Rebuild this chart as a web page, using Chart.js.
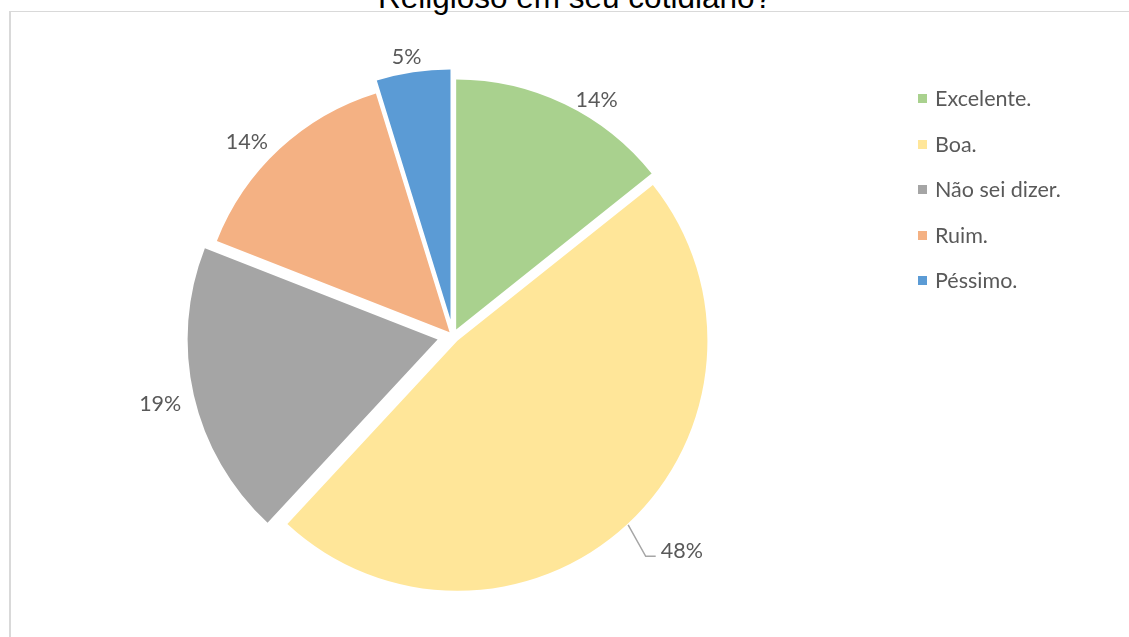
<!DOCTYPE html>
<html>
<head>
<meta charset="utf-8">
<script src="https://cdn.jsdelivr.net/npm/chart.js@4.4.0/dist/chart.umd.min.js"></script>
<style>
    body { margin: 0; background: #fff; width: 1129px; height: 637px; overflow: hidden; position: relative; }
    #frame { position: absolute; left: 9px; top: 11px; width: 1200px; height: 700px; border-top: 1px solid #d9d9d9; border-left: 2px solid #d9d9d9; }
    #title { position: absolute; left: 0; top: -19px; width: 1150px; text-align: center; font: 31.5px/32px 'Liberation Sans', Arial, sans-serif; color: #000; white-space: nowrap; }
    #chart { position: absolute; left: 0; top: 0; }
    #legend { position: absolute; left: 918px; top: 76px; font: 21.5px/45.5px 'Lato', sans-serif; color: #595959; }
    #legend .item { position: relative; height: 45.5px; padding-left: 17px; white-space: nowrap; }
    #legend .box { position: absolute; left: 0; top: 18px; width: 9px; height: 9px; }
</style>
</head>
<body>
<div id="frame"></div>
<div id="title">Religioso em seu cotidiano?</div>
<canvas id="chart" width="1129" height="637"></canvas>
<div id="legend"></div>

<script>
// ===================== DATA =====================
const categories = ['Excelente.', 'Boa.', 'Não sei dizer.', 'Ruim.', 'Péssimo.'];
const responses = [3, 10, 4, 3, 1];
const sliceColors = ['#A9D18E', '#FFE699', '#A5A5A5', '#F4B183', '#5B9BD5'];

// Explosion of each slice (px) and where its label sits
const explode = [7.3, 6.5, 15.8, 5, 16.8];
const labelAngle = [5.7, -4.1, 0, -3.8, -0.9];   // degrees from slice middle
const labelGap = [19.5, 57, 34.5, 28.7, 16.7];   // px beyond the outer radius
const leader = [false, true, false, false, false];

const total = responses.reduce((a, b) => a + b, 0);

// ===================== LEGEND =====================
const legendEl = document.getElementById('legend');
categories.forEach((name, i) => {
    const item = document.createElement('div');
    item.className = 'item';
    item.innerHTML = '<span class="box" style="background:' + sliceColors[i] + '"></span>' + name;
    legendEl.appendChild(item);
});

// ===================== PLUGIN: exploded slices + labels =====================
const explodedPie = {
    id: 'explodedPie',
    beforeDatasetDraw(chart, args) {
        const ctx = chart.ctx;
        args.meta.data.forEach((arc, i) => {
            const mid = (arc.startAngle + arc.endAngle) / 2;
            ctx.save();
            ctx.translate(Math.cos(mid) * explode[i], Math.sin(mid) * explode[i]);
            arc.draw(ctx);
            ctx.restore();
        });
        return false;
    },
    afterDatasetsDraw(chart) {
        const ctx = chart.ctx;
        const meta = chart.getDatasetMeta(0);
        const fontSize = 21.5;
        ctx.save();
        ctx.font = fontSize + 'px Lato';
        ctx.fillStyle = '#595959';
        ctx.textAlign = 'center';
        ctx.textBaseline = 'alphabetic';
        meta.data.forEach((arc, i) => {
            const mid = (arc.startAngle + arc.endAngle) / 2;
            const cx = arc.x + Math.cos(mid) * explode[i];
            const cy = arc.y + Math.sin(mid) * explode[i];
            const a = mid + labelAngle[i] * Math.PI / 180;
            const d = arc.outerRadius + labelGap[i];
            const lx = cx + Math.cos(a) * d;
            const ly = cy + Math.sin(a) * d;
            const text = Math.round(responses[i] / total * 100) + '%';

            if (leader[i]) {
                const w = ctx.measureText(text).width;
                const left = lx - w / 2;
                ctx.save();
                ctx.strokeStyle = '#A6A6A6';
                ctx.lineWidth = 1.5;
                ctx.beginPath();
                ctx.moveTo(cx + Math.cos(mid) * (arc.outerRadius + 1), cy + Math.sin(mid) * (arc.outerRadius + 1));
                ctx.lineTo(left - 15, ly + 6);
                ctx.lineTo(left - 5, ly + 6);
                ctx.stroke();
                ctx.restore();
            }
            ctx.fillText(text, lx, ly + fontSize * 0.36);
        });
        ctx.restore();
    }
};

// ===================== CHART =====================
const ctx = document.getElementById('chart').getContext('2d');
const pieChart = new Chart(ctx, {
    type: 'pie',
    data: {
        labels: categories,
        datasets: [{
            data: responses,
            backgroundColor: sliceColors,
            borderWidth: 0
        }]
    },
    options: {
        responsive: false,
        animation: false,
        radius: 250,
        layout: {
            padding: { left: 0, right: 223, top: 35, bottom: 0 }
        },
        plugins: {
            legend: { display: false },
            tooltip: { enabled: false }
        }
    },
    plugins: [explodedPie]
});
</script>
</body>
</html>
